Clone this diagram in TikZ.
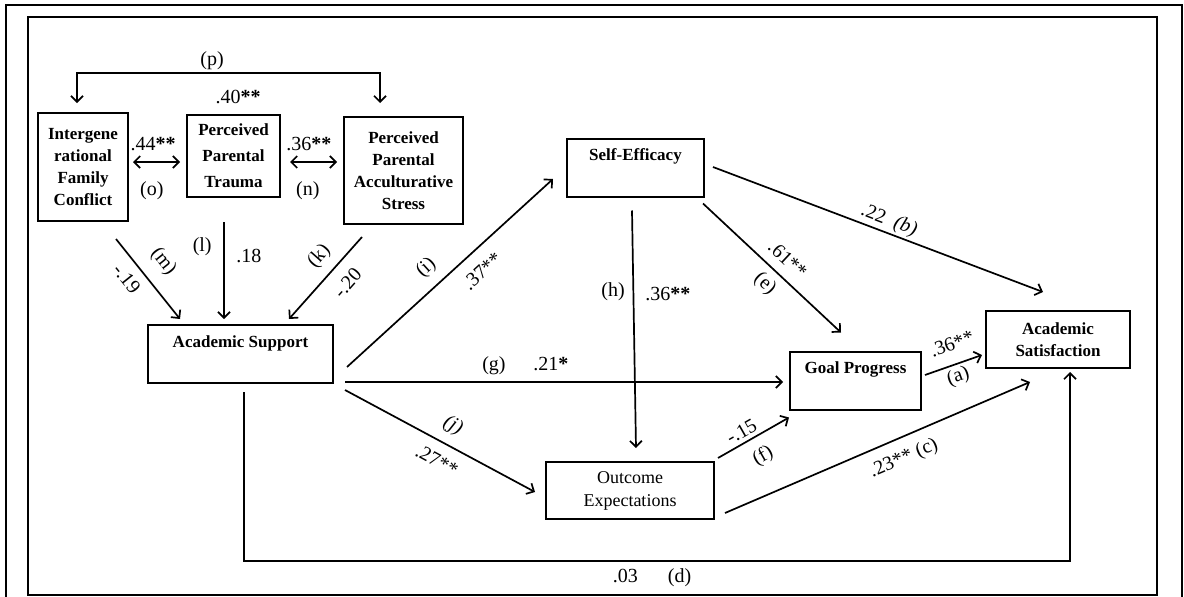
\documentclass[tikz,border=0pt]{standalone}
\usepackage{fontspec}
\setmainfont{Liberation Serif}
\usetikzlibrary{positioning,arrows.meta}
\tikzset{box/.style={draw, line width=2pt, inner sep=0pt, outer sep=0pt, align=center, font=\bfseries\fontsize{17}{22}\selectfont}}
\tikzset{topbox/.style={box, text height=22pt, text depth=36pt}}
\tikzset{frame/.style={draw, line width=2pt}}
\tikzset{conn/.style={line width=1.7pt}}
\tikzset{every edge/.style={draw, conn, ->}}
\tikzset{lab/.style={font=\fontsize{20}{22}\selectfont, inner sep=2pt}}

\begin{document}
\begin{tikzpicture}[x=1pt, y=-1pt, >={Straight Barb[length=6pt,width=12pt]}]
  \useasboundingbox (0,0) rectangle (1184,597);
  \draw[frame] (6,600) -- (6,5) -- (1182,5) -- (1182,600);
  \draw[frame] (28,17) rectangle (1157,595);

  % parental stressors
  \node[box, minimum width=90pt, minimum height=108pt] (conflict) at (83,167) {Intergene\\rational\\Family\\Conflict};
  \node[box, minimum width=93pt, minimum height=82pt, font=\bfseries\fontsize{17}{26}\selectfont] (trauma) [right=59pt of conflict, yshift=11pt] {Perceived\\Parental\\Trauma};
  \node[box, minimum width=119pt, minimum height=107pt] (stress) [right=64pt of trauma, yshift=-14.5pt] {Perceived\\Parental\\Acculturative\\Stress};

  % model variables
  \node[topbox, minimum width=185pt] (support) at (240.5,354) {Academic Support};
  \node[topbox, minimum width=137pt] (selfeff) at (635.5,167.5) {Self-Efficacy};
  \node[topbox, minimum width=131pt] (goal) at (855.5,380.5) {Goal Progress};
  \node[box, minimum width=144pt, minimum height=57pt] (satis) at (1058,339.5) {Academic\\Satisfaction};
  \node[box, minimum width=168pt, minimum height=57pt, font=\fontsize{18}{23}\selectfont] (outcome) at (630,490.5) {Outcome\\Expectations};

  % correlations
  \path ([shift={(5,-5)}]conflict.east) edge[<->] node[lab, above=8pt, pos=.43] {.44\textbf{**}} node[lab, below=17pt, pos=.4] {(o)} ([shift={(-7,6)}]trauma.west);
  \path ([shift={(10,6)}]trauma.east) edge[<->] node[lab, above=8pt, pos=.4] {.36\textbf{**}} node[lab, below=17pt, pos=.38] {(n)} ([shift={(-7,-8.5)}]stress.west);
  \draw[conn, <->] ([shift={(-6,-10)}]conflict.north) -- ++(0,-30) -| node[lab, above=0pt, pos=.223] {(p)} node[lab, below=14pt, pos=.266] {.40\textbf{**}} ([shift={(-23.5,-14)}]stress.north);

  % paths to academic support
  \path ([shift={(33,18)}]conflict.south) edge node[lab, sloped, below=7pt, pos=.37] {-.19} node[lab, sloped, above=11pt, pos=.46] {(m)} ([shift={(-60.5,-6)}]support.north);
  \path ([shift={(-9.5,25)}]trauma.south) edge node[lab, left=9.5pt, pos=.25] {(l)} node[lab, right=9.5pt, pos=.35] {.18} ([shift={(-16.5,-6)}]support.north);
  \path ([shift={(-41.5,13)}]stress.south) edge node[lab, sloped, above=7pt, pos=.39] {(k)} node[lab, sloped, below=10pt, pos=.4] {-.20} ([shift={(48.5,-6)}]support.north);

  % paths from academic support
  \path ([shift={(14,13)}]support.east) edge node[lab, sloped, above=8pt, pos=.45] {(i)} node[lab, sloped, below=10.7pt, pos=.59] {.37**} ([shift={(-14,11.5)}]selfeff.west);
  \path ([shift={(12,28)}]support.east) edge node[lab, above=4pt, pos=.34] {(g)} node[lab, above=8pt, pos=.47] {.21\textbf{*}} ([shift={(-7,1.5)}]goal.west);
  \path ([shift={(12,36)}]support.east) edge node[lab, sloped, above=7.5pt, pos=.52] {\textit{(j)}} node[lab, sloped, below=9pt, pos=.53] {.27**} ([shift={(-11,1.5)}]outcome.west);

  % paths from self-efficacy
  \path ([shift={(-3.5,14)}]selfeff.south) edge node[lab, left=5.7pt, pos=.34] {(h)} node[lab, right=9pt, pos=.35] {.36\textbf{**}} ([shift={(6,-14)}]outcome.north);
  \path ([shift={(-1,7)}]selfeff.south east) edge node[lab, sloped, above=7.4pt, pos=.53] {.61**} node[lab, sloped, below=4.7pt, pos=.53] {(e)} ([shift={(-14.5,-19)}]goal.north);
  \path ([shift={(9,-0.5)}]selfeff.east) edge node[lab, sloped, above=0.3pt, pos=.52] {.22\ \ \textit{(b)}} ([shift={(-15,-19)}]satis.north);

  % paths to satisfaction
  \path ([shift={(4,-5.5)}]goal.east) edge node[lab, sloped, above=10.8pt, pos=.59] {.36**} node[lab, sloped, below=0.9pt, pos=.51] {(a)} ([shift={(-4,15.5)}]satis.west);
  \path ([shift={(4,-4)}]outcome.north east) edge node[lab, sloped, above=1.9pt, pos=.41] {-.15} node[lab, sloped, below=8.9pt, pos=.49] {(f)} ([shift={(-1,8)}]goal.south west);
  \path ([shift={(11,22.5)}]outcome.east) edge node[lab, sloped, below=8.8pt, pos=.56] {.23** (c)} ([shift={(-28,14)}]satis.south);
  \draw[conn, ->] ([shift={(3.5,9)}]support.south) -- ++(0,169) -| node[lab, below=5pt, pos=.247] {.03\hspace{30pt}(d)} ([shift={(12,4)}]satis.south);
\end{tikzpicture}
\end{document}
